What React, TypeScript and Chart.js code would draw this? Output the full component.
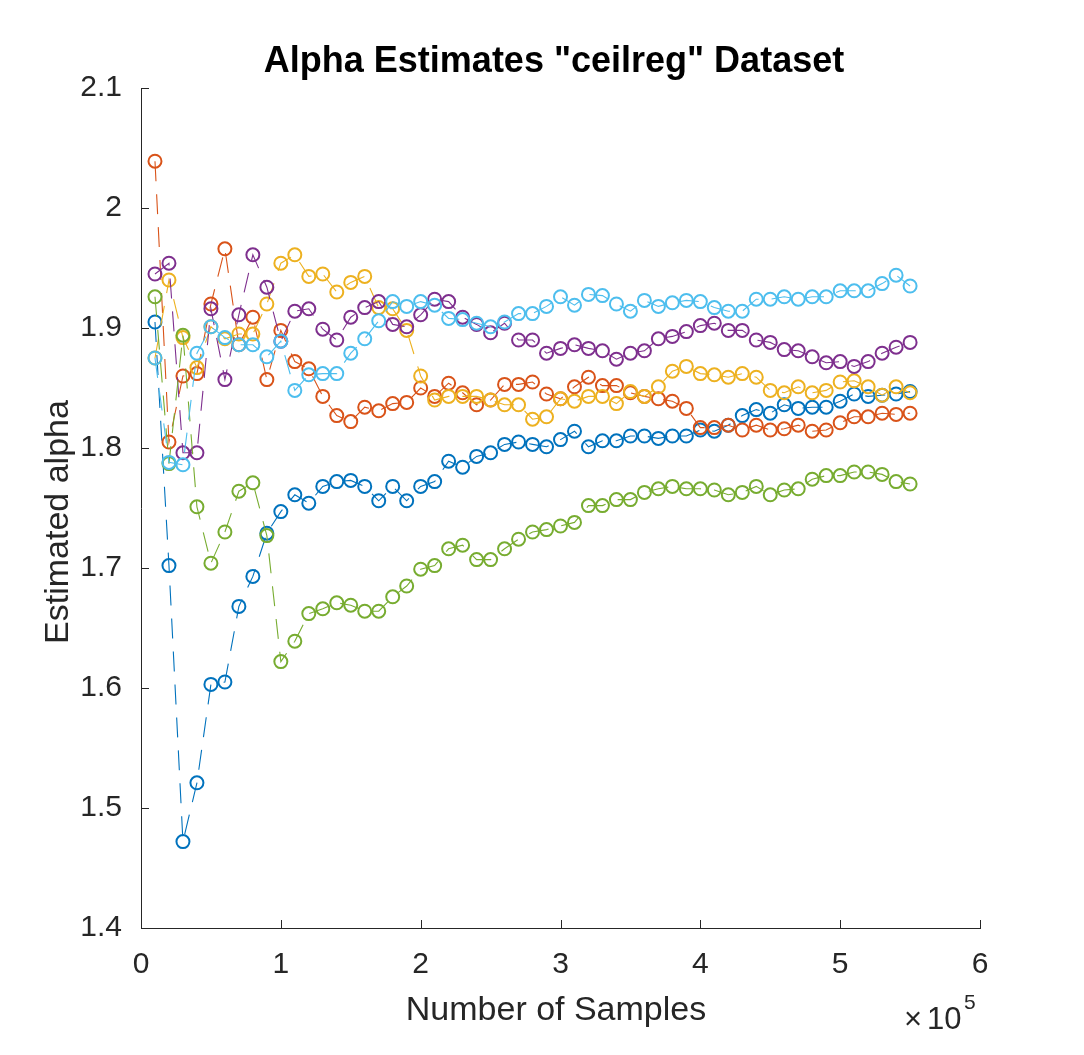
import { useEffect, useRef } from "react";
import { Chart, registerables } from "chart.js";

Chart.register(...registerables);

const samples = [
  10000, 20000, 30000, 40000, 50000, 60000, 70000, 80000, 90000, 100000,
  110000, 120000, 130000, 140000, 150000, 160000, 170000, 180000, 190000, 200000,
  210000, 220000, 230000, 240000, 250000, 260000, 270000, 280000, 290000, 300000,
  310000, 320000, 330000, 340000, 350000, 360000, 370000, 380000, 390000, 400000,
  410000, 420000, 430000, 440000, 450000, 460000, 470000, 480000, 490000, 500000,
  510000, 520000, 530000, 540000, 550000,
];

const seriesBlue = [
  1.905, 1.702, 1.472, 1.521, 1.603, 1.605, 1.668, 1.693, 1.729, 1.747,
  1.761, 1.754, 1.768, 1.772, 1.773, 1.768, 1.756, 1.768, 1.756, 1.768,
  1.772, 1.789, 1.784, 1.793, 1.796, 1.803, 1.805, 1.803, 1.801, 1.807,
  1.814, 1.801, 1.806, 1.806, 1.81, 1.81, 1.808, 1.81, 1.81, 1.815,
  1.814, 1.819, 1.827, 1.832, 1.829, 1.836, 1.833, 1.834, 1.834, 1.839,
  1.845, 1.843, 1.844, 1.845, 1.847,
];

const seriesOrange = [
  2.039, 1.805, 1.86, 1.862, 1.92, 1.966, 1.886, 1.909, 1.857, 1.898,
  1.872, 1.866, 1.843, 1.827, 1.822, 1.834, 1.831, 1.837, 1.838, 1.85,
  1.843, 1.854, 1.846, 1.836, 1.84, 1.853, 1.853, 1.855, 1.845, 1.841,
  1.851, 1.859, 1.852, 1.852, 1.846, 1.843, 1.841, 1.839, 1.833, 1.817,
  1.817, 1.819, 1.815, 1.819, 1.815, 1.816, 1.819, 1.814, 1.815, 1.821,
  1.826, 1.826, 1.829, 1.828, 1.829,
];

const seriesYellow = [
  1.875, 1.94, 1.892, 1.867, 1.901, 1.891, 1.895, 1.895, 1.92, 1.954,
  1.961, 1.943, 1.945, 1.93, 1.938, 1.943, 1.917, 1.916, 1.898, 1.86,
  1.84, 1.843, 1.843, 1.843, 1.84, 1.836, 1.836, 1.824, 1.826, 1.841,
  1.839, 1.843, 1.843, 1.837, 1.847, 1.843, 1.851, 1.864, 1.868, 1.862,
  1.861, 1.859, 1.862, 1.859, 1.848, 1.846, 1.851, 1.846, 1.848, 1.855,
  1.856, 1.851, 1.844, 1.851, 1.846,
];

const seriesPurple = [
  1.945, 1.954, 1.796, 1.796, 1.916, 1.857, 1.911, 1.961, 1.934, 1.889,
  1.914, 1.916, 1.899, 1.89, 1.909, 1.917, 1.922, 1.903, 1.901, 1.911,
  1.924, 1.922, 1.909, 1.903, 1.896, 1.904, 1.89, 1.89, 1.879, 1.883,
  1.886, 1.883, 1.881, 1.874, 1.879, 1.881, 1.891, 1.893, 1.897, 1.902,
  1.904, 1.898, 1.898, 1.89, 1.888, 1.882, 1.881, 1.876, 1.871, 1.872,
  1.868, 1.872, 1.879, 1.884, 1.888,
];

const seriesGreen = [
  1.926, 1.787, 1.894, 1.751, 1.704, 1.73, 1.764, 1.771, 1.727, 1.622,
  1.639, 1.662, 1.666, 1.671, 1.669, 1.664, 1.664, 1.676, 1.685, 1.699,
  1.702, 1.716, 1.719, 1.707, 1.707, 1.716, 1.724, 1.73, 1.732, 1.735,
  1.738, 1.752, 1.752, 1.757, 1.757, 1.763, 1.766, 1.768, 1.766, 1.766,
  1.765, 1.761, 1.763, 1.768, 1.761, 1.765, 1.766, 1.774, 1.777, 1.777,
  1.78, 1.78, 1.778, 1.772, 1.77,
];

const seriesCyan = [
  1.875, 1.788, 1.786, 1.879, 1.901, 1.892, 1.886, 1.886, 1.876, 1.889,
  1.848, 1.861, 1.862, 1.862, 1.879, 1.891, 1.906, 1.922, 1.918, 1.922,
  1.919, 1.908, 1.907, 1.904, 1.901, 1.905, 1.912, 1.912, 1.918, 1.926,
  1.919, 1.928, 1.927, 1.92, 1.914, 1.923, 1.918, 1.921, 1.923, 1.922,
  1.917, 1.914, 1.914, 1.924, 1.924, 1.926, 1.924, 1.926, 1.926, 1.931,
  1.931, 1.931, 1.937, 1.944, 1.935,
];

const seriesList = [seriesBlue, seriesOrange, seriesYellow, seriesPurple, seriesGreen, seriesCyan];
const seriesColors = ["#0072BD", "#D95319", "#EDB120", "#7E2F8E", "#77AC30", "#4DBEEE"];

const xTickValues = [0, 1, 2, 3, 4, 5, 6];
const yTickValues = [1.4, 1.5, 1.6, 1.7, 1.8, 1.9, 2.0, 2.1];

const titleText = 'Alpha Estimates "ceilreg" Dataset';
const xTitle = "Number of Samples";
const yTitle = "Estimated alpha";

const FONT = "'Liberation Sans', Arial, Helvetica, sans-serif";
const AXIS_COLOR = "#262626";

const decorPlugin = {
  id: "decor",
  afterDraw(chart: any) {
    const { ctx, chartArea, scales } = chart;
    const xs = scales.x;
    const ys = scales.y;
    ctx.save();
    ctx.strokeStyle = AXIS_COLOR;
    ctx.lineWidth = 1;
    // inward tick marks
    xs.ticks.forEach((_t: any, i: number) => {
      const px = Math.round(xs.getPixelForTick(i)) + 0.5;
      ctx.beginPath();
      ctx.moveTo(px, chartArea.bottom);
      ctx.lineTo(px, chartArea.bottom - 8);
      ctx.stroke();
    });
    ys.ticks.forEach((_t: any, i: number) => {
      const py = Math.round(ys.getPixelForTick(i)) + 0.5;
      ctx.beginPath();
      ctx.moveTo(chartArea.left, py);
      ctx.lineTo(chartArea.left + 8, py);
      ctx.stroke();
    });

    ctx.fillStyle = "#000000";
    ctx.textAlign = "center";
    ctx.textBaseline = "alphabetic";
    ctx.font = `bold 36px ${FONT}`;
    ctx.fillText(titleText, 554, 72);

    ctx.fillStyle = AXIS_COLOR;
    ctx.font = `34px ${FONT}`;
    ctx.fillText(xTitle, 556, 1020);

    ctx.save();
    ctx.translate(68, 522);
    ctx.rotate(-Math.PI / 2);
    ctx.fillText(yTitle, 0, 0);
    ctx.restore();

    ctx.textAlign = "left";
    ctx.font = `31px ${FONT}`;
    ctx.fillText("\u00d7", 904, 1029);
    ctx.fillText("10", 927, 1029);
    ctx.font = `21px ${FONT}`;
    ctx.fillText("5", 964, 1009);
    ctx.restore();
  },
};

export default function App() {
  const canvasRef = useRef<HTMLCanvasElement | null>(null);

  useEffect(() => {
    const canvas = canvasRef.current;
    if (!canvas) return;
    const datasets = seriesList.map((vals, si) => ({
      label: `Series ${si + 1}`,
      data: vals.map((v, i) => ({ x: samples[i], y: v })),
      borderColor: seriesColors[si],
      backgroundColor: "rgba(0,0,0,0)",
      borderWidth: 1.1,
      borderDash: [20, 13],
      pointStyle: "circle",
      pointRadius: 6.5,
      pointBorderWidth: 2,
      pointBorderColor: seriesColors[si],
      pointBackgroundColor: "rgba(0,0,0,0)",
      tension: 0,
      fill: false,
      order: seriesList.length - si,
    }));

    const chart = new Chart(canvas, {
      type: "line",
      data: { datasets },
      options: {
        responsive: false,
        maintainAspectRatio: false,
        animation: false,
        devicePixelRatio: 1,
        layout: { padding: { left: 0, right: 104, top: 88, bottom: 0 } },
        plugins: {
          legend: { display: false },
          title: { display: false },
          tooltip: { enabled: false },
        },
        scales: {
          x: {
            type: "linear",
            min: 0,
            max: 600000,
            afterBuildTicks: (scale: any) => {
              scale.ticks = xTickValues.map((v) => ({ value: v * 100000 }));
            },
            ticks: {
              autoSkip: false,
              maxRotation: 0,
              padding: 19,
              color: AXIS_COLOR,
              font: { size: 30, family: FONT },
              callback: (v: any) => String(Math.round(Number(v) / 100000)),
            },
            grid: { display: true, drawOnChartArea: false, drawTicks: false },
            border: { display: true, color: AXIS_COLOR, width: 1 },
            afterFit: (scale: any) => {
              scale.height = 127;
            },
          },
          y: {
            type: "linear",
            min: 1.4,
            max: 2.1,
            afterBuildTicks: (scale: any) => {
              scale.ticks = yTickValues.map((v) => ({ value: v }));
            },
            ticks: {
              autoSkip: false,
              padding: 19,
              color: AXIS_COLOR,
              font: { size: 30, family: FONT },
              callback: (v: any) => {
                const n = Number(Number(v).toFixed(1));
                return String(n);
              },
            },
            grid: { display: true, drawOnChartArea: false, drawTicks: false },
            border: { display: true, color: AXIS_COLOR, width: 1 },
            afterFit: (scale: any) => {
              scale.width = 141;
            },
          },
        },
      },
      plugins: [decorPlugin],
    });

    return () => {
      chart.destroy();
    };
  }, []);

  return (
    <div style={{ position: "absolute", left: 0, top: 0, width: 1084, height: 1055, background: "#ffffff" }}>
      <canvas ref={canvasRef} width={1084} height={1055} style={{ width: 1084, height: 1055, display: "block" }} />
    </div>
  );
}
